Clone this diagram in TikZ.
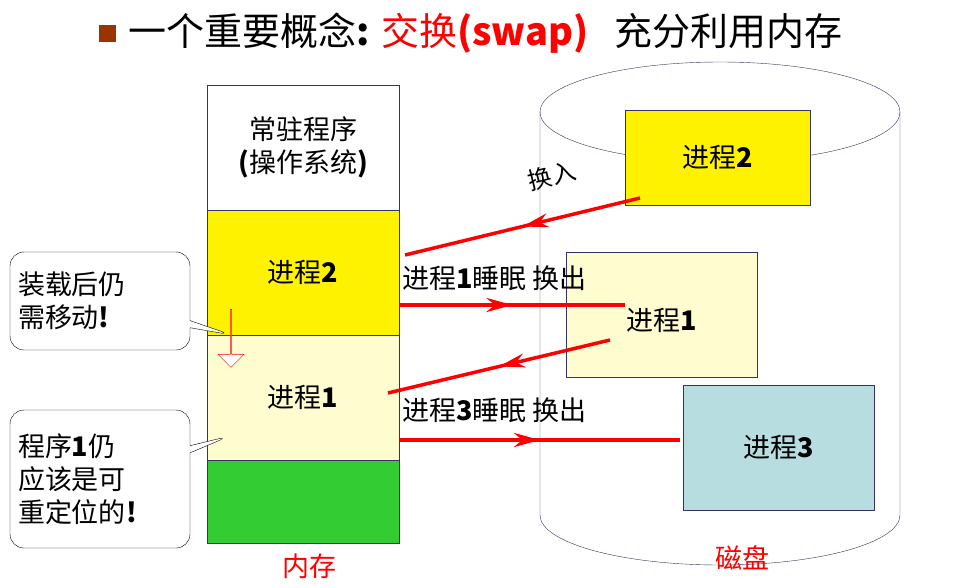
\documentclass[tikz,border=0pt]{standalone}
\usepackage{fontspec}
\setmainfont{Noto Sans CJK SC}
\usetikzlibrary{arrows.meta,decorations.markings,shapes.arrows,shapes.callouts}
\definecolor{swapred}{RGB}{255,0,0}
\definecolor{lineblue}{RGB}{51,51,102}
\definecolor{paleyellow}{RGB}{255,252,208}
\definecolor{procgreen}{RGB}{51,204,51}
\definecolor{paleblue}{RGB}{183,221,224}
\definecolor{bullet}{RGB}{153,51,0}
\tikzset{
	big/.style={font=\fontsize{27}{33}\selectfont},
	block/.style={big, draw=lineblue, minimum width=192pt, inner sep=0pt, align=center},
	diskbox/.style={big, draw=lineblue, inner sep=0pt},
	label/.style={big, inner sep=1pt},
	swap/.style={draw=swapred, line width=3.5pt, postaction={decorate},
			decoration={markings, mark=at position 0.5 with {\arrow[swapred]{Stealth[length=26pt,width=14pt]}}}},
	note/.style={big, rectangle callout, rounded corners=14pt, draw=black, fill=white, align=left,
			minimum width=180pt, text width=164pt, inner sep=6pt}
}
\begin{document}
\begin{tikzpicture}[x=1pt,y=-1pt]
	\useasboundingbox (0,0) rectangle (978,587);
	% title
	\node[fill=bullet, minimum size=17pt, inner sep=0pt] (mark) at (107,33) {};
	\node[anchor=west, font=\fontsize{38}{44}\selectfont] (title) at (125,33)
		{一个重要概念\textbf{:} \textcolor{swapred}{交换\textbf{(swap)}}\hspace{26pt}充分利用内存};

	% disk
	\draw[lineblue] (540,112) -- (540,515) arc[start angle=180, end angle=0, x radius=180, y radius=50]
		-- (900,112);
	\draw[lineblue] (720,112) ellipse[x radius=180, y radius=50];
	\node[diskbox, fill=yellow, minimum width=185pt, minimum height=95pt] (d2) at (717.5,157.5) {进程\textbf{2}};
	\node[diskbox, fill=paleyellow, minimum width=191pt, minimum height=125pt] (d1) at (661.5,314.5) {};
	\node[label] (d1t) at (662,320) {进程\textbf{1}};
	\node[diskbox, fill=paleblue, minimum width=191pt, minimum height=125pt] (d3) at (778.5,447.5) {进程\textbf{3}};
	\node[big, text=swapred] (disk) at (742,558) {磁盘};

	% memory
	\node[block, minimum height=125pt, fill=white] (os) at (303,147.5) {常驻程序\\\textbf{(}操作系统\textbf{)}};
	\node[block, minimum height=125pt, fill=yellow] (m2) at (303,272.5) {进程\textbf{2}};
	\node[block, minimum height=125pt, fill=paleyellow] (m1) at (303,397.5) {进程\textbf{1}};
	\node[block, minimum height=83pt, fill=procgreen] (free) at (303,501.5) {};
	\node[big, text=swapred] (mem) at (309,566) {内存};

	% swapping
	\coordinate (in2) at (640,198);
	\coordinate (in2end) at (405,255);
	\draw[swap] (in2) -- (in2end);
	\node[label, rotate=14, font=\fontsize{24}{28}\selectfont] (swapin) at (552,176) {换入};
	\coordinate (out1) at (400,305);
	\coordinate (out1end) at (625,305);
	\draw[swap, line width=4pt] (out1) -- (out1end);
	\node[label, anchor=west] (sleep1) at (401,278) {进程\textbf{1}睡眠 换出};
	\coordinate (in1) at (610,340);
	\coordinate (in1end) at (388,393);
	\draw[swap] (in1) -- (in1end);
	\coordinate (out3) at (400,440);
	\coordinate (out3end) at (680,440);
	\draw[swap, line width=4pt] (out3) -- (out3end);
	\node[label, anchor=west] (sleep3) at (401,410) {进程\textbf{3}睡眠 换出};

	% relocation
	\node[single arrow, shape border rotate=270, draw=swapred, fill=white, minimum height=58pt,
		minimum width=26pt, single arrow head extend=4pt, inner sep=0pt] (move) at (231,338) {};
	\node[note, minimum height=98pt, callout absolute pointer={(232,335)}] (note1) at (100,301) {装载后仍\\需移动\textbf{!}};
	\node[note, minimum height=138pt, callout absolute pointer={(230,436)}] (note2) at (100,479) {程序\textbf{1}仍\\应该是可\\重定位的\textbf{!}};
\end{tikzpicture}
\end{document}
